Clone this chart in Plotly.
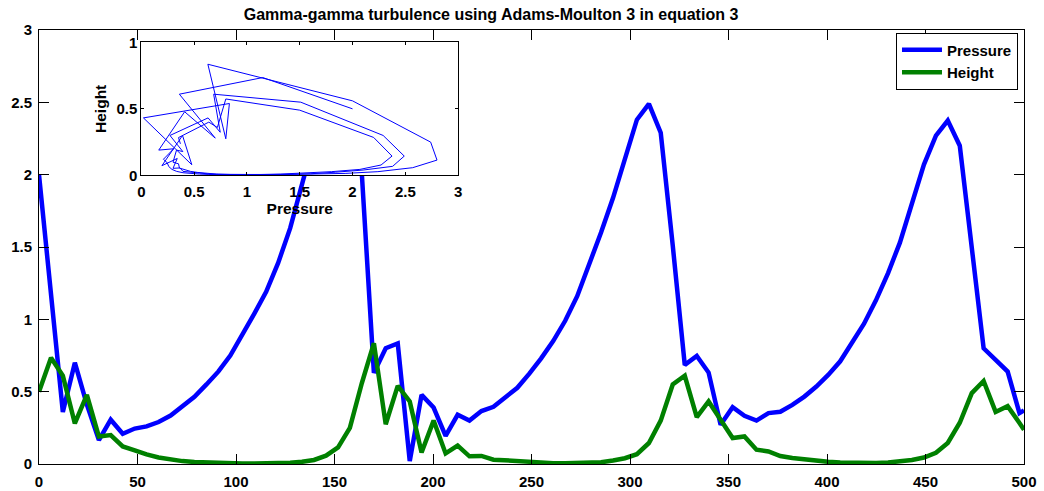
import plotly.graph_objects as go

# time grid (read from vertex positions)
time = [0, 6.1, 12.1, 18.2, 24.3, 30.4, 36.4, 42.5, 48.6, 54.6,
        60.7, 66.8, 72.8, 78.9, 85.0, 91.1, 97.1, 103.2, 109.3, 115.3,
        121.4, 127.5, 133.5, 139.6, 145.7, 151.8, 157.8, 163.9, 170.0, 176.0,
        182.1, 188.2, 194.2, 200.3, 206.4, 212.5, 218.5, 224.6, 230.7, 236.7,
        242.8, 248.9, 254.9, 261.0, 267.1, 273.2, 279.2, 285.3, 291.4, 297.4,
        303.5, 309.6, 315.6, 321.7, 327.8, 333.9, 339.9, 346.0, 352.1, 358.1,
        364.2, 370.3, 376.3, 382.4, 388.5, 394.6, 400.6, 406.7, 412.8, 418.8,
        424.9, 431.0, 437.0, 443.1, 449.2, 455.3, 461.3, 467.4, 473.5, 479.5,
        485.6, 491.7, 497.7, 500.0]

pressure = [2.0, 1.15, 0.36, 0.70, 0.41, 0.165, 0.306, 0.209, 0.245, 0.26,
            0.29, 0.335, 0.395, 0.465, 0.55, 0.64, 0.75, 0.89, 1.04, 1.19,
            1.39, 1.63, 1.93, 2.24, 2.57, 2.80, 2.74, 2.00, 0.63, 0.80,
            0.834, 0.02, 0.478, 0.39, 0.195, 0.34, 0.30, 0.366, 0.395, 0.46,
            0.527, 0.625, 0.73, 0.85, 0.99, 1.16, 1.37, 1.60, 1.84, 2.10,
            2.38, 2.49, 2.29, 1.51, 0.685, 0.747, 0.632, 0.271, 0.393, 0.333,
            0.30, 0.352, 0.361, 0.409, 0.466, 0.535, 0.616, 0.71, 0.84, 0.97,
            1.133, 1.32, 1.53, 1.80, 2.07, 2.27, 2.374, 2.20, 1.50, 0.80,
            0.72, 0.639, 0.352, 0.37]

height = [0.5, 0.735, 0.61, 0.28, 0.478, 0.19, 0.20, 0.121, 0.095, 0.066,
          0.045, 0.03, 0.02, 0.014, 0.01, 0.007, 0.005, 0.004, 0.004, 0.004,
          0.006, 0.009, 0.015, 0.028, 0.058, 0.115, 0.25, 0.56, 0.835, 0.275,
          0.54, 0.432, 0.08, 0.30, 0.073, 0.127, 0.053, 0.056, 0.03, 0.025,
          0.018, 0.012, 0.008, 0.006, 0.005, 0.006, 0.008, 0.012, 0.024, 0.04,
          0.068, 0.145, 0.30, 0.55, 0.61, 0.324, 0.432, 0.30, 0.179, 0.19,
          0.099, 0.087, 0.055, 0.041, 0.03, 0.022, 0.015, 0.01, 0.007, 0.006,
          0.007, 0.01, 0.016, 0.028, 0.045, 0.078, 0.145, 0.285, 0.49, 0.574,
          0.36, 0.40, 0.284, 0.237]

main_xticks = [0, 50, 100, 150, 200, 250, 300, 350, 400, 450, 500]
main_yticks = [0, 0.5, 1, 1.5, 2, 2.5, 3]
main_yticktext = ["0", "0.5", "1", "1.5", "2", "2.5", "3"]
inset_xticks = [0, 0.5, 1, 1.5, 2, 2.5, 3]
inset_xticktext = ["0", "0.5", "1", "1.5", "2", "2.5", "3"]
inset_yticks = [0, 0.5, 1]
inset_yticktext = ["0", "0.5", "1"]

BLUE = "#0000FF"
GREEN = "#008000"
FONT = "Liberation Sans"

fig = go.Figure()
fig.add_trace(go.Scatter(x=time, y=pressure, mode="lines", name="Pressure",
                         line=dict(color=BLUE, width=4.5), xaxis="x", yaxis="y"))
fig.add_trace(go.Scatter(x=time, y=height, mode="lines", name="Height",
                         line=dict(color=GREEN, width=4.5), xaxis="x", yaxis="y"))
fig.add_trace(go.Scatter(x=pressure, y=height, mode="lines", showlegend=False,
                         line=dict(color=BLUE, width=1), xaxis="x2", yaxis="y2"))

tickfont = dict(family=FONT, size=15, color="black", weight="bold")
common = dict(showgrid=False, zeroline=False, showline=True, linecolor="black",
              linewidth=1, mirror="ticks", ticks="inside", tickcolor="black",
              tickfont=tickfont, automargin=False)

fig.update_layout(
    width=1044, height=491,
    margin=dict(l=39, r=20, t=30, b=27, autoexpand=False),
    paper_bgcolor="white", plot_bgcolor="white",
    title=dict(text="Gamma-gamma turbulence using Adams-Moulton 3 in equation 3",
               font=dict(family=FONT, size=16, color="black", weight="bold"),
               x=0.4703, xanchor="center", y=0.970, yanchor="middle"),
    xaxis=dict(domain=[0, 1], range=[0, 500], tickvals=main_xticks,
               ticklen=10, ticklabelstandoff=4, **common),
    yaxis=dict(domain=[0, 1], range=[0, 3], tickvals=main_yticks,
               ticktext=main_yticktext, ticklen=10, ticklabelstandoff=3, **common),
    xaxis2=dict(domain=[0.1039, 0.4255], anchor="y2", range=[0, 3],
                tickvals=inset_xticks, ticktext=inset_xticktext, ticklen=3,
                ticklabelstandoff=3,
                title=dict(text="Pressure", standoff=0,
                           font=dict(family=FONT, size=15.5, color="black", weight="bold")),
                **common),
    yaxis2=dict(domain=[0.665, 0.9717], anchor="x2", range=[0, 1],
                tickvals=inset_yticks, ticktext=inset_yticktext, ticklen=3,
                title=dict(text="Height", standoff=6,
                           font=dict(family=FONT, size=15.5, color="black", weight="bold")),
                **common),
    legend=dict(x=0.9939, xanchor="right", y=0.994, yanchor="top",
                bgcolor="white", bordercolor="black", borderwidth=1,
                font=dict(family=FONT, size=15, color="black", weight="bold"),
                itemwidth=40, tracegroupgap=0),
    showlegend=True,
)

fig.write_html("out.html")
